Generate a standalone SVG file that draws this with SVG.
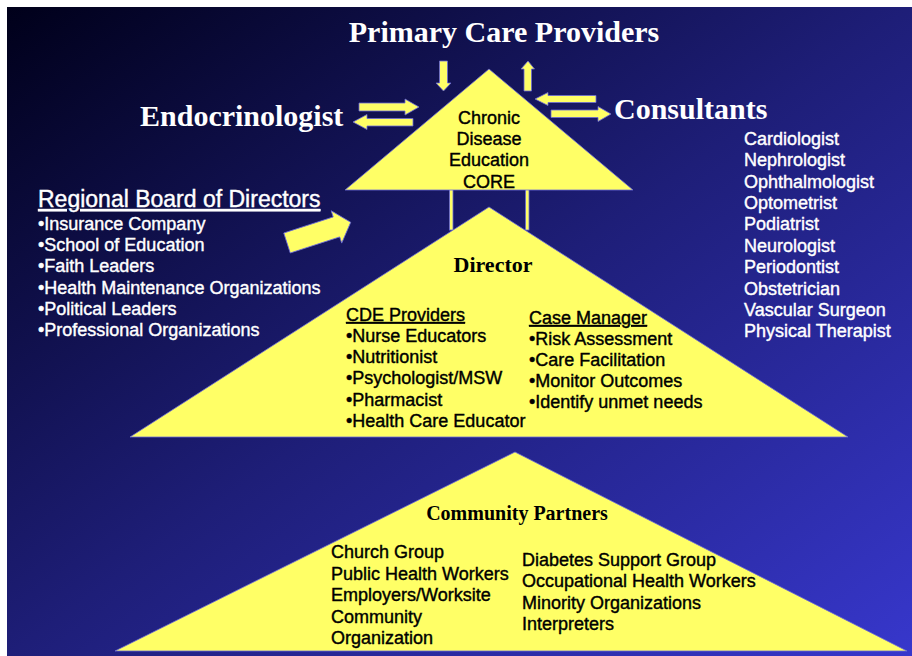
<svg xmlns="http://www.w3.org/2000/svg" width="912" height="656" viewBox="0 0 912 656">
<defs>
<linearGradient id="bg" x1="0" y1="0" x2="1" y2="1">
<stop offset="0" stop-color="#00001a"/>
<stop offset="0.5" stop-color="#1e1e78"/>
<stop offset="1" stop-color="#3737cc"/>
</linearGradient>
<style>
.y{fill:#ffff66;stroke:#6a6ad8;stroke-width:0.8;stroke-linejoin:miter}
.ttl{font-family:"Liberation Serif","Times New Roman",serif;font-weight:bold;fill:#ffffff;font-size:30px}
.hd{font-family:"Liberation Serif","Times New Roman",serif;font-weight:bold;fill:#000000}
.w{font-family:"Liberation Sans",Arial,sans-serif;font-size:18px;fill:#ffffff;stroke:#ffffff;stroke-width:0.4}
.b{font-family:"Liberation Sans",Arial,sans-serif;font-size:18px;fill:#000000;stroke:#000000;stroke-width:0.4}
.big{font-size:23px}
.u{text-decoration:underline}
</style>
</defs>
<rect x="0" y="0" width="912" height="656" fill="#ffffff"/>
<rect x="7" y="7" width="905" height="649" fill="url(#bg)"/>

<g id="connectors">
<rect class="y" x="449.5" y="189" width="3.5" height="41"/>
<rect class="y" x="525.5" y="189" width="3.5" height="41"/>
<polygon class="y" points="439.5,61 447.5,61 447.5,83 451,83 443.5,91 436,83 439.5,83"/>
<polygon class="y" points="528,61 534.5,69 531.5,69 531.5,91 524,91 524,69 521,69"/>
<polygon class="y" points="359,103 405,103 405,99 419,107 405,115 405,111 359,111"/>
<polygon class="y" points="413,118.5 367,118.5 367,114.5 353,122 367,129.5 367,126 413,126"/>
<polygon class="y" points="596,95.5 548,95.5 548,92.5 535,99 548,105.5 548,102.5 596,102.5"/>
<polygon class="y" points="551,110 598,110 598,106.5 611,114 598,121.5 598,117.5 551,117.5"/>
<polygon class="y" transform="translate(287,243) rotate(-18)" points="0,-10.5 52,-10.5 52,-17 67,0 52,17 52,10.5 0,10.5"/>
</g>

<g id="community">
<polygon class="y" points="515,452 907,651 115,651"/>
<text class="hd" x="517" y="520" font-size="20" text-anchor="middle">Community Partners</text>
<text class="b" x="331" y="558">Church Group</text>
<text class="b" x="331" y="580">Public Health Workers</text>
<text class="b" x="331" y="601">Employers/Worksite</text>
<text class="b" x="331" y="623">Community</text>
<text class="b" x="331" y="644">Organization</text>
<text class="b" x="522" y="566">Diabetes Support Group</text>
<text class="b" x="522" y="587">Occupational Health Workers</text>
<text class="b" x="522" y="609">Minority Organizations</text>
<text class="b" x="522" y="630">Interpreters</text>
</g>

<g id="director">
<polygon class="y" points="489,207 848,437 130,437"/>
<text class="hd" x="493" y="272" font-size="22" text-anchor="middle">Director</text>
<text class="b u" x="346" y="321">CDE Providers</text>
<text class="b" x="346" y="342">•Nurse Educators</text>
<text class="b" x="346" y="363">•Nutritionist</text>
<text class="b" x="346" y="384">•Psychologist/MSW</text>
<text class="b" x="346" y="406">•Pharmacist</text>
<text class="b" x="346" y="427">•Health Care Educator</text>
<text class="b u" x="529" y="324">Case Manager</text>
<text class="b" x="529" y="345">•Risk Assessment</text>
<text class="b" x="529" y="366">•Care Facilitation</text>
<text class="b" x="529" y="387">•Monitor Outcomes</text>
<text class="b" x="529" y="408">•Identify unmet needs</text>
</g>

<g id="core">
<polygon class="y" points="489,69 633,190 345,190"/>
<text class="b" x="489" y="124" text-anchor="middle">Chronic</text>
<text class="b" x="489" y="145" text-anchor="middle">Disease</text>
<text class="b" x="489" y="166" text-anchor="middle">Education</text>
<text class="b" x="489" y="188" text-anchor="middle">CORE</text>
</g>

<g id="primary-care">
<text class="ttl" x="504" y="42" text-anchor="middle">Primary Care Providers</text>
</g>

<g id="endocrinologist">
<text class="ttl" x="140" y="126">Endocrinologist</text>
</g>

<g id="consultants">
<text class="ttl" x="614" y="119">Consultants</text>
<text class="w" x="744" y="145">Cardiologist</text>
<text class="w" x="744" y="166">Nephrologist</text>
<text class="w" x="744" y="188">Ophthalmologist</text>
<text class="w" x="744" y="209">Optometrist</text>
<text class="w" x="744" y="230">Podiatrist</text>
<text class="w" x="744" y="252">Neurologist</text>
<text class="w" x="744" y="273">Periodontist</text>
<text class="w" x="744" y="295">Obstetrician</text>
<text class="w" x="744" y="316">Vascular Surgeon</text>
<text class="w" x="744" y="337">Physical Therapist</text>
</g>

<g id="regional-board">
<text class="w big u" x="38" y="207">Regional Board of Directors</text>
<text class="w" x="38" y="230">•Insurance Company</text>
<text class="w" x="38" y="251">•School of Education</text>
<text class="w" x="38" y="272">•Faith Leaders</text>
<text class="w" x="38" y="294">•Health Maintenance Organizations</text>
<text class="w" x="38" y="315">•Political Leaders</text>
<text class="w" x="38" y="336">•Professional Organizations</text>
</g>
</svg>
